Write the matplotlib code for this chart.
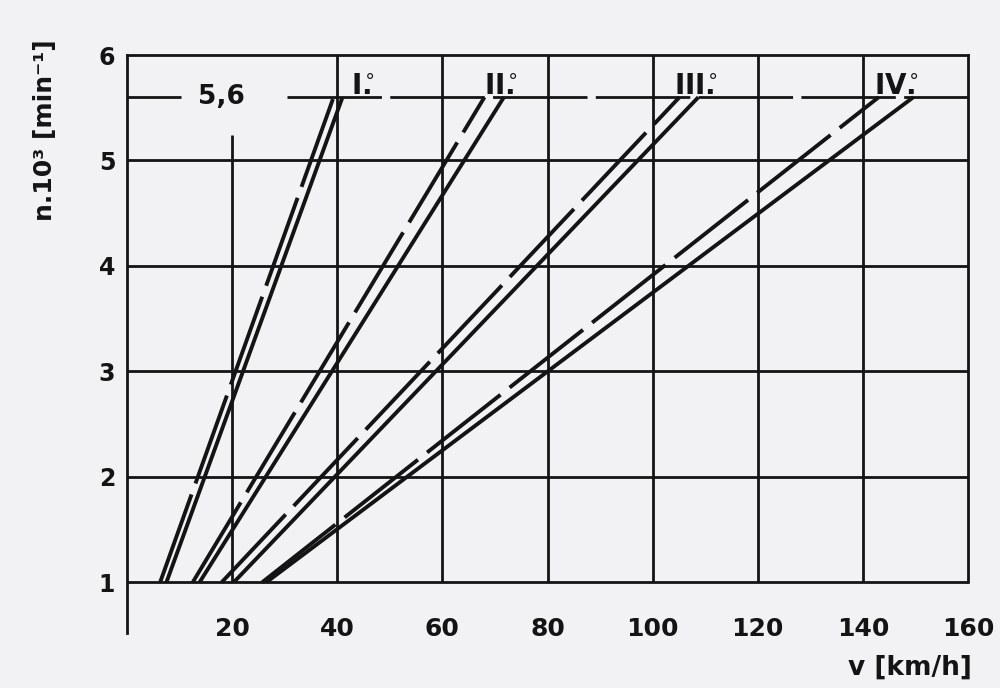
import matplotlib
matplotlib.use("Agg")
import matplotlib.pyplot as plt

# gear lines: speed v [km/h] at n = 1 and at n = 5.6 (x1000 min^-1)
gears = ["I.", "II.", "III.", "IV."]
n_ends = [1.0, 5.6]
solid_v1 = [7.5, 13.8, 20.3, 26.5]
solid_v56 = [41.0, 71.7, 108.7, 149.6]
dash_v1 = [6.3, 12.5, 18.0, 25.7]
dash_v56 = [39.3, 68.0, 105.1, 143.0]
label_v = [47.0, 74.4, 112.4, 150.6]

x_ticks = [20, 40, 60, 80, 100, 120, 140, 160]
y_ticks = [1, 2, 3, 4, 5, 6]
grid_v = [20, 40, 60, 80, 100, 120, 140]
grid_n = [2, 3, 4, 5]
n_max = 5.6

ink = "#141414"
bg = "#f2f2f4"

fig = plt.figure(figsize=(10, 6.88), dpi=100, facecolor=bg)
ax = fig.add_axes([0.127, 0.080, 0.841, 0.840])
ax.set_facecolor(bg)
ax.set_xlim(0, 160)
ax.set_ylim(0.52, 6)

# frame
for s in ["left", "top", "right"]:
    ax.spines[s].set_linewidth(2.0)
    ax.spines[s].set_color(ink)
ax.spines["right"].set_bounds(1, 6)
ax.spines["bottom"].set_visible(False)
ax.axhline(1, color=ink, lw=2.0)

# grid
for n in grid_n:
    ax.axhline(n, color=ink, lw=2.0)
for v in grid_v:
    top = 5.24 if v == 20 else 6
    ax.vlines(v, 1, top, color=ink, lw=2.0)

# 5,6 limit line
ax.plot([0, 10.3], [n_max, n_max], color=ink, lw=2.0, solid_capstyle="butt")
ax.plot([30.4, 160], [n_max, n_max], color=ink, lw=2.0, dashes=(34, 3))
ax.text(18.0, n_max, "5,6", fontsize=19, fontweight="bold", color=ink,
        ha="center", va="center")

# gear lines
for i, g in enumerate(gears):
    ax.plot([solid_v1[i], solid_v56[i]], n_ends, color=ink, lw=2.8,
            solid_capstyle="butt")
    ax.plot([dash_v1[i], dash_v56[i]], n_ends, color=ink, lw=2.8,
            dashes=(24, 3), dash_capstyle="butt")
    ax.text(label_v[i], 5.63, g + r"$\!\!^{\circ}$", fontsize=20,
            fontweight="bold", color=ink, ha="right", va="baseline")

ax.set_xticks(x_ticks)
ax.set_yticks(y_ticks)
ax.tick_params(axis="both", length=0, labelcolor=ink)
ax.tick_params(axis="x", pad=-11.5, labelsize=18)
ax.tick_params(axis="y", pad=8.5, labelsize=17)
for lab in ax.get_xticklabels() + ax.get_yticklabels():
    lab.set_fontweight("bold")

fig.text(0.972, 0.030, "v [km/h]", fontsize=19, fontweight="bold", color=ink,
         ha="right", va="center")
fig.text(0.045, 0.811, "n.10³ [min⁻¹]", fontsize=18, fontweight="bold",
         color=ink, rotation=90, ha="center", va="center")

fig.savefig("out.png", dpi=100, facecolor=bg)
